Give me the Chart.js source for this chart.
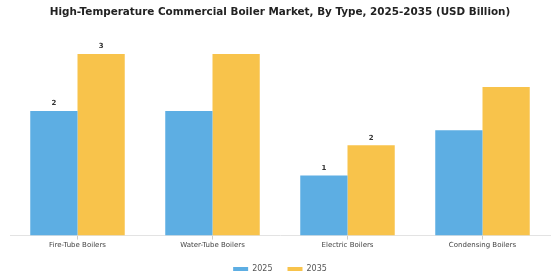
<!DOCTYPE html>
<html>
<head>
<meta charset="utf-8">
<script src="https://cdn.jsdelivr.net/npm/chart.js@4/dist/chart.umd.min.js"></script>
<style>
  html, body { margin: 0; padding: 0; background: #fff; }
  #wrap { width: 560px; height: 280px; }
</style>
</head>
<body>
<div id="wrap"><canvas id="chart"></canvas></div>
<script>
const categories = ['Fire-Tube Boilers', 'Water-Tube Boilers', 'Electric Boilers', 'Condensing Boilers'];
const values2025 = [2.14, 2.14, 1.03, 1.81];
const values2035 = [3.12, 3.12, 1.55, 2.55];
const labels2025 = ['2', null, '1', null];
const labels2035 = ['3', null, '2', null];

const FONT = "'DejaVu Sans', sans-serif";

// small bold numbers above some bars
const barLabels = {
    id: 'barLabels',
    afterDatasetsDraw(chart) {
        const ctx = chart.ctx;
        const texts = [labels2025, labels2035];
        ctx.save();
        ctx.font = 'bold 7px ' + FONT;
        ctx.fillStyle = '#333';
        ctx.textAlign = 'center';
        ctx.textBaseline = 'bottom';
        chart.data.datasets.forEach((ds, i) => {
            chart.getDatasetMeta(i).data.forEach((bar, j) => {
                const t = texts[i][j];
                if (t) ctx.fillText(t, bar.x, bar.y - 4);
            });
        });
        ctx.restore();
    }
};

new Chart(document.getElementById('chart'), {
    type: 'bar',
    data: {
        labels: categories,
        datasets: [
            { label: '2025', data: values2025, backgroundColor: '#5DAEE3' },
            { label: '2035', data: values2035, backgroundColor: '#F8C34B' }
        ]
    },
    options: {
        responsive: true,
        maintainAspectRatio: false,
        animation: false,
        datasets: { bar: { barPercentage: 1, categoryPercentage: 0.7 } },
        layout: { padding: { left: 10, right: 10, top: 0, bottom: -3 } },
        plugins: {
            title: {
                display: true,
                text: 'High-Temperature Commercial Boiler Market, By Type, 2025-2035 (USD Billion)',
                font: { family: FONT, size: 10.4, weight: 'bold' },
                color: '#222',
                padding: { top: 6, bottom: 22 }
            },
            legend: {
                position: 'bottom',
                labels: {
                    boxWidth: 15,
                    boxHeight: 4,
                    padding: 15,
                    color: '#555',
                    font: { family: FONT, size: 8 }
                }
            },
            tooltip: { enabled: false }
        },
        scales: {
            x: {
                grid: { display: true, drawOnChartArea: false, offset: false, tickLength: 4, color: '#ccc' },
                border: { color: '#e3e3e3' },
                ticks: { color: '#444', font: { family: FONT, size: 7 }, padding: 1 }
            },
            y: {
                display: false,
                min: 0,
                max: 3.35
            }
        }
    },
    plugins: [barLabels]
});
</script>
</body>
</html>
